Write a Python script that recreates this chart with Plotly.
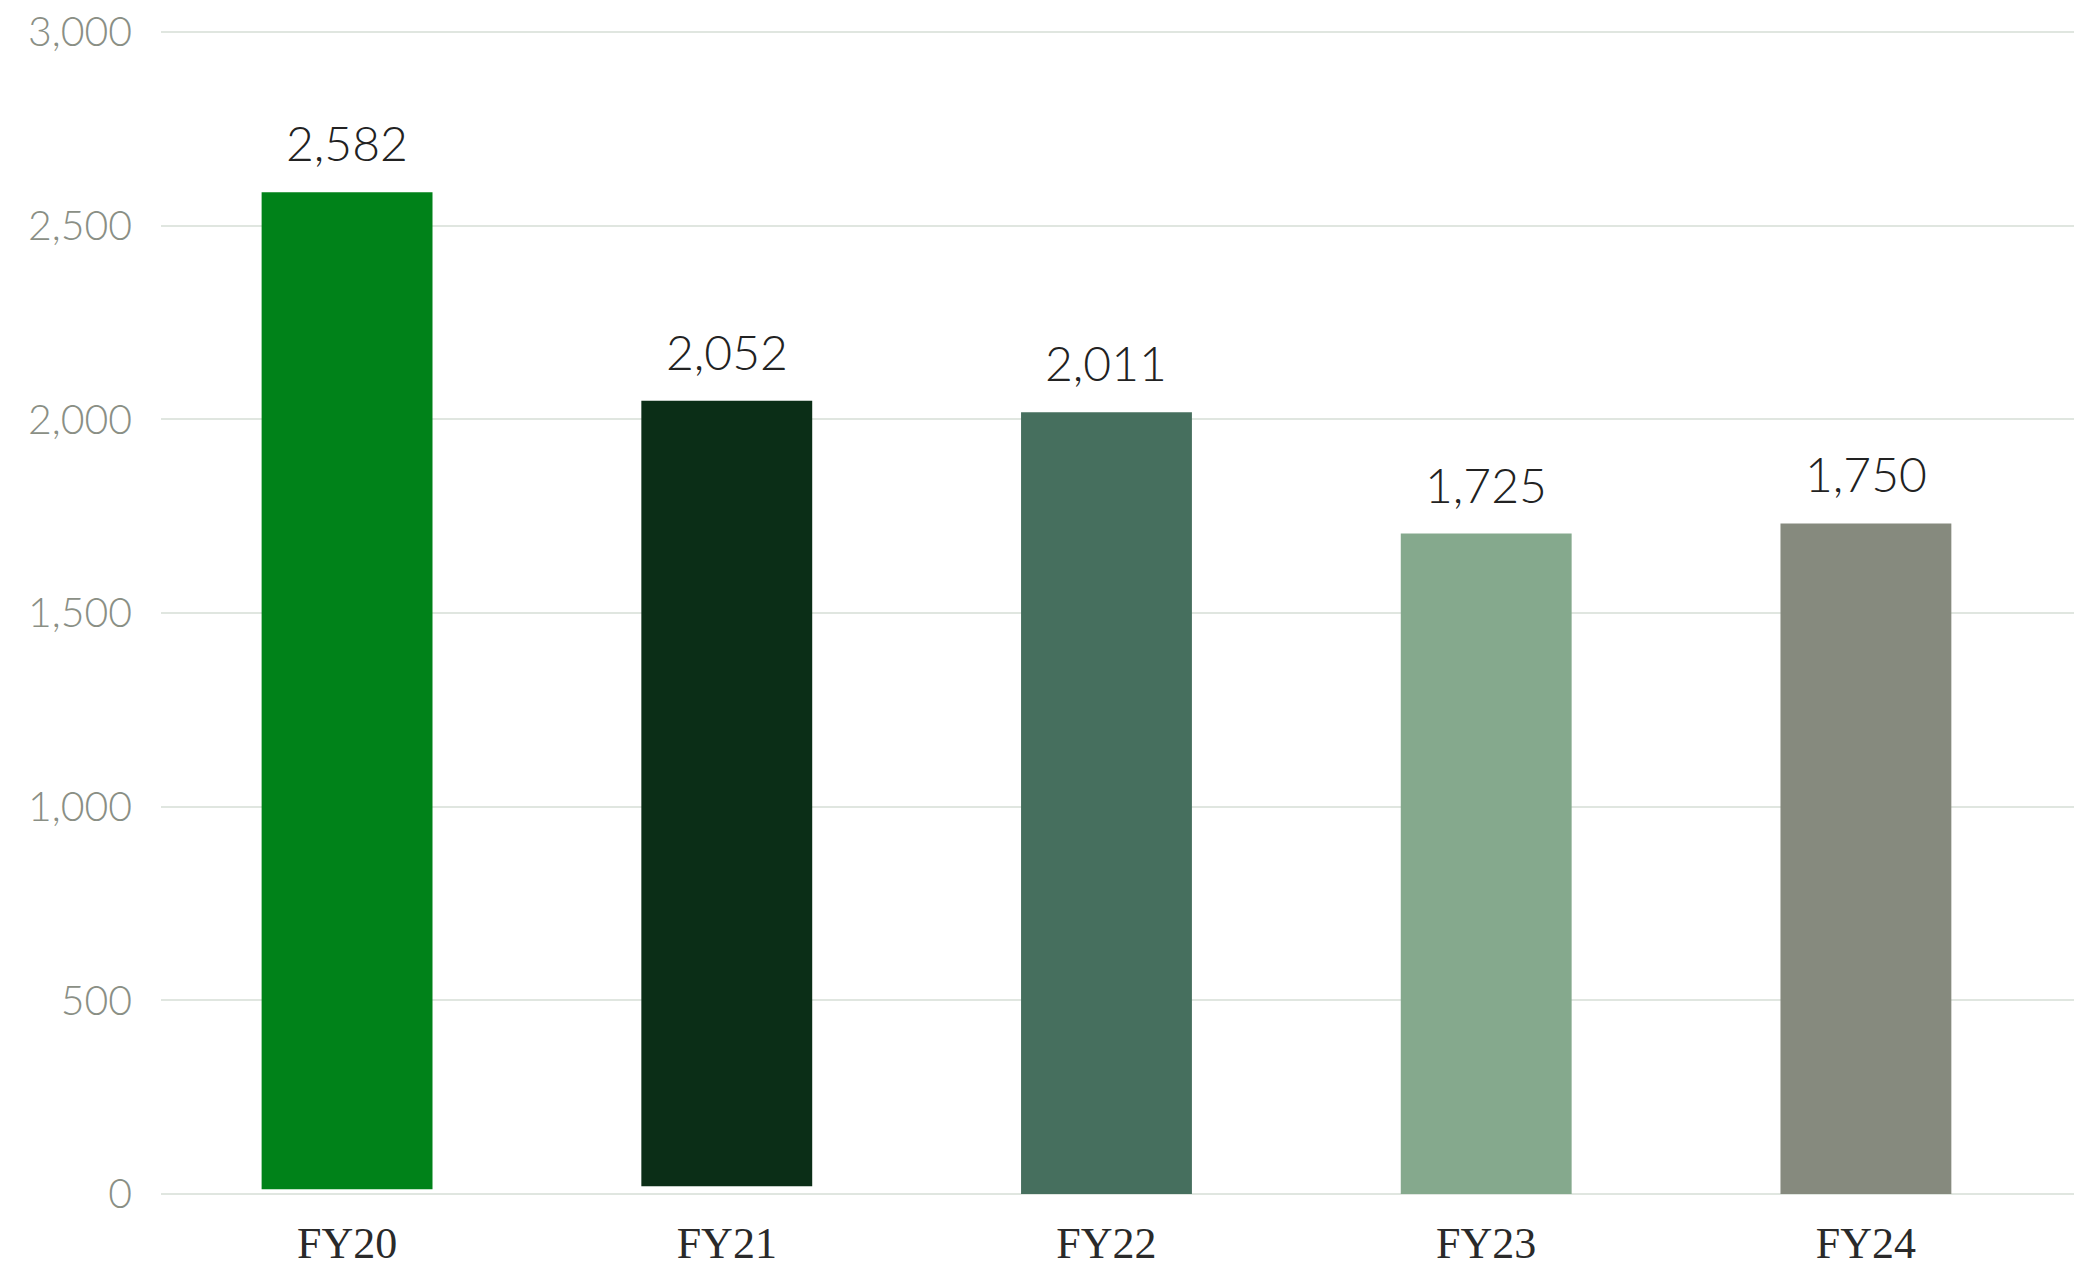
import plotly.graph_objects as go

categories = ["FY20", "FY21", "FY22", "FY23", "FY24"]
bar_tops = [2586, 2048, 2018, 1705, 1731]
bar_bases = [12, 20, 0, 0, 0]
label_texts = ["2,582", "2,052", "2,011", "1,725", "1,750"]
bar_colors = ["#008219", "#0b2e17", "#466f5e", "#85a98d", "#868a7e"]
y_ticks = [0, 500, 1000, 1500, 2000, 2500, 3000]

heights = [t - b for t, b in zip(bar_tops, bar_bases)]

fig = go.Figure()
fig.add_trace(go.Bar(
    x=categories, y=heights, base=bar_bases,
    marker=dict(color=bar_colors, line=dict(width=0)),
    width=0.45, hoverinfo="skip",
))

for c, t, lab in zip(categories, bar_tops, label_texts):
    fig.add_annotation(x=c, y=t, text=lab, showarrow=False,
                       yanchor="bottom", yshift=19,
                       font=dict(family="Lato", size=48, color="#222222", weight=300))

fig.update_layout(
    width=2074, height=1268,
    margin=dict(l=161, r=0, t=28.4, b=74, autoexpand=False),
    paper_bgcolor="white", plot_bgcolor="white",
    showlegend=False,
)
fig.update_xaxes(
    range=[-0.49, 4.548], showgrid=False, showline=False, zeroline=False,
    automargin=False,
    ticks="", tickfont=dict(family="Liberation Serif", size=44, color="#2a2a2a"),
    ticklabelstandoff=19,
)
fig.update_yaxes(
    range=[0, 3010], tickvals=y_ticks, tickformat=",",
    automargin=False,
    showgrid=True, gridcolor="#e0e6e0", gridwidth=2,
    zeroline=True, zerolinecolor="#e0e6e0", zerolinewidth=2,
    showline=False, ticks="",
    tickfont=dict(family="Lato", size=41, color="#8a8f85", weight=300),
    ticklabelstandoff=28,
)

fig.write_html(
    "out.html",
    config={"displayModeBar": False},
    post_script="document.body.style.margin='0';document.body.style.overflow='hidden';",
)
